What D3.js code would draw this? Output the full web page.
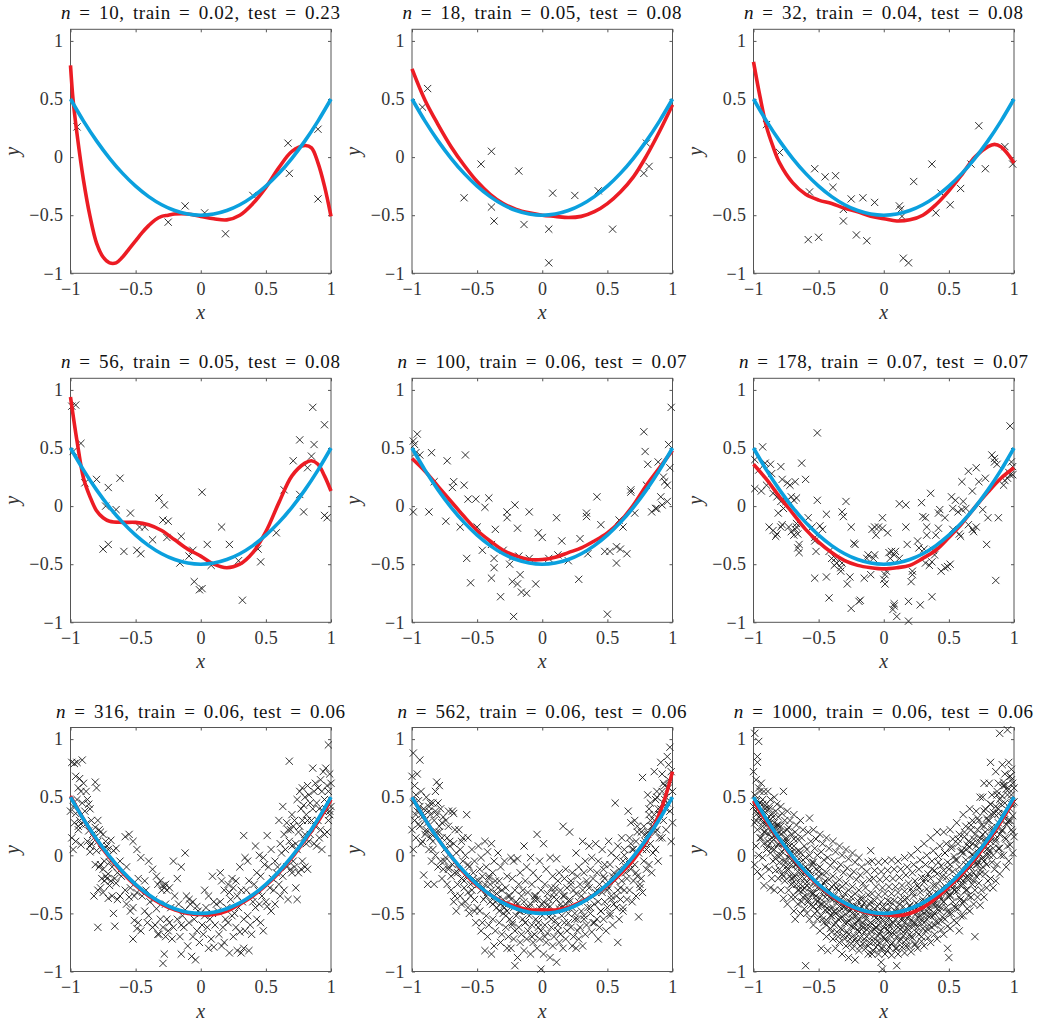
<!DOCTYPE html>
<html>
<head>
<meta charset="utf-8">
<script src="https://cdn.jsdelivr.net/npm/d3@7"></script>
<style>
body { margin: 0; background: #fff; }
text { font-family: "Liberation Serif", "DejaVu Serif", serif; }
</style>
</head>
<body>
<svg id="chart" width="1048" height="1020"></svg>
<script>
// Sample sizes and errors shown in each panel title.
var ns = [10, 18, 32, 56, 100, 178, 316, 562, 1000];
var trainErr = ["0.02", "0.05", "0.04", "0.05", "0.06", "0.07", "0.06", "0.06", "0.06"];
var testErr = ["0.23", "0.08", "0.08", "0.08", "0.07", "0.07", "0.06", "0.06", "0.06"];

var xTicks = [-1, -0.5, 0, 0.5, 1];
var yTicks = [-1, -0.5, 0, 0.5, 1];

// True function (blue).
var truthX = [-1, -0.9, -0.8, -0.7, -0.6, -0.5, -0.4, -0.3, -0.2, -0.1, 0, 0.1, 0.2, 0.3, 0.4, 0.5, 0.6, 0.7, 0.8, 0.9, 1];
var truthY = [0.5, 0.31, 0.14, -0.01, -0.14, -0.25, -0.34, -0.41, -0.46, -0.49, -0.5, -0.49, -0.46, -0.41, -0.34, -0.25, -0.14, -0.01, 0.14, 0.31, 0.5];

// Fitted curves (red), flat x,y pairs in hundredths.
var fit10 = [-100,79, -98,49, -95,20, -90,-20, -85,-51, -80,-74, -75,-86, -70,-91, -65,-91, -60,-86, -55,-79, -50,-72, -45,-65, -40,-59, -35,-54, -30,-51, -25,-50, -20,-49, -10,-49, 0,-51, 10,-53, 20,-54, 30,-50, 40,-40, 50,-26, 60,-9, 70,5, 80,10, 85,8, 90,-5, 95,-25, 100,-51];
var fit18 = [-100,76, -90,49, -80,28, -70,9, -60,-7, -50,-21, -40,-32, -30,-40, -20,-45, -10,-48, 0,-50, 10,-51, 20,-52, 30,-51, 40,-47, 50,-40, 60,-30, 70,-17, 80,1, 90,22, 100,45];
var fit32 = [-100,82, -95,52, -90,26, -85,9, -80,-5, -70,-22, -60,-32, -50,-37, -40,-40, -30,-44, -20,-47, -10,-51, 0,-53, 10,-55, 20,-54, 30,-50, 40,-41, 50,-29, 60,-15, 70,0, 80,9, 85,11, 90,9, 95,3, 100,-5];
var fit56 = [-100,94, -95,56, -90,24, -85,8, -80,-4, -75,-10, -70,-13, -60,-14, -50,-14, -40,-16, -30,-21, -20,-29, -10,-37, 0,-43, 10,-50, 20,-53, 30,-50, 40,-40, 50,-22, 60,3, 70,26, 80,37, 85,39, 90,36, 95,26, 100,13];
var fit100 = [-100,41, -90,30, -80,17, -70,4, -60,-9, -50,-21, -40,-30, -30,-38, -20,-43, -10,-46, 0,-46, 10,-44, 20,-40, 30,-36, 40,-30, 50,-23, 60,-13, 70,1, 80,18, 90,33, 100,48];
var fit178 = [-100,36, -90,23, -80,8, -70,-6, -60,-20, -50,-31, -40,-40, -30,-47, -20,-51, -10,-53, 0,-54, 10,-53, 20,-51, 30,-45, 40,-38, 50,-27, 60,-15, 70,-1, 80,12, 90,24, 100,33];
var fit316 = [-100,51, -90,31, -80,13, -70,-2, -60,-15, -50,-26, -40,-35, -30,-42, -20,-47, -10,-50, 0,-51, 10,-51, 20,-48, 30,-42, 40,-35, 50,-26, 60,-15, 70,-2, 80,13, 90,29, 100,48];
var fit562 = [-100,50, -90,31, -80,14, -70,-1, -60,-15, -50,-26, -40,-34, -30,-40, -20,-44, -10,-47, 0,-47, 10,-47, 20,-45, 30,-40, 40,-34, 50,-26, 60,-16, 70,-4, 80,12, 90,36, 95,52, 100,72];
var fit1000 = [-100,47, -90,29, -80,13, -70,-2, -60,-15, -50,-26, -40,-35, -30,-42, -20,-47, -10,-50, 0,-51, 10,-52, 20,-50, 30,-45, 40,-37, 50,-27, 60,-16, 70,-3, 80,12, 90,29, 100,48];

// Training samples, flat x,y pairs in hundredths.
var pts10 = [-95,26, -12,-42, -25,-56, 3,-48, 19,-66, 40,-33, 67,12, 68,-14, 90,24, 90,-36];
var pts18 = [-88,59, -92,43, -39,5, -47,-6, -18,-12, -60,-35, -39,-43, -37,-55, -14,-58, 5,-62, 5,-91, 8,-31, 25,-33, 43,-29, 54,-62, 80,12, 82,-8, 78,-14];
var pts32 = [-90,28, -80,4, -53,-10, -57,-30, -45,-17, -37,-16, -39,-26, -25,-36, -16,-35, -7,-39, -31,-45, -31,-55, -58,-71, -50,-69, -21,-67, -13,-72, 12,-42, 13,-45, 14,-51, 15,-87, 19,-91, 23,-21, 37,-6, 40,-48, 44,-31, 51,-41, 59,-27, 67,-6, 73,27, 78,-10, 93,9, 99,-6];
var pts56 = [-99,86, -96,87, -92,54, -98,47, -89,20, -80,23, -71,16, -62,24, -73,0, -65,-3, -54,-6, -75,-37, -71,-33, -59,-39, -49,-38, -46,-41, -47,-18, -43,-18, -37,-29, -32,7, -28,1, -29,-12, -25,-13, -26,-27, -15,-26, -16,-49, -9,-43, -6,-38, -5,-65, -1,-72, 1,-71, 1,12, 5,-33, 8,-51, 16,-18, 22,-33, 29,-47, 32,-81, 44,-37, 46,-48, 58,-23, 64,14, 71,39, 76,57, 76,10, 79,-5, 82,33, 85,43, 86,85, 87,53, 95,70, 95,-8, 97,-10];
var pts100 = [-99,56, -96,62, -98,53, -97,46, -94,44, -99,-5, -85,46, -87,-5, -83,21, -73,39, -74,-13, -68,21, -69,16, -60,18, -59,44, -63,-18, -57,6, -51,6, -58,-45, -55,-66, -50,-18, -41,7, -44,-1, -36,-20, -46,-38, -39,-33, -37,-45, -37,-53, -39,-62, -32,-78, -30,-38, -27,-10, -27,-5, -25,-50, -23,-44, -23,-65, -21,1, -19,-19, -18,-43, -17,-59, -19,-67, -16,-74, -12,-75, -22,-95, -10,-5, -10,-45, -5,-67, -3,-23, 0,-27, 5,-45, 11,-10, 15,-30, 12,-42, 20,-47, 29,-28, 28,-63, 34,-6, 34,-9, 35,-41, 42,8, 45,-16, 48,-39, 50,-93, 52,-39, 57,-35, 60,-37, 57,-49, 59,-12, 65,-41, 62,-18, 68,14, 68,12, 71,-6, 78,64, 79,47, 81,36, 80,18, 84,-5, 87,-2, 89,38, 91,8, 92,1, 94,21, 96,18, 93,25, 97,53, 99,85, 98,33, 96,4, 88,-2];
var pts178 = [-99,40, -93,51, -99,15, -96,31, -91,37, -87,36, -86,28, -90,18, -94,13, -85,11, -82,8, -79,4, -79,34, -78,23, -81,-6, -77,-2, -75,4, -74,20, -72,18, -68,21, -69,5, -67,7, -71,8, -88,-18, -85,-21, -82,-24, -79,-18, -78,-16, -83,-26, -73,-18, -71,-22, -68,-20, -67,-18, -69,-25, -66,-24, -65,-33, -65,-40, -66,-36, -67,-15, -63,37, -60,23, -58,-10, -55,-18, -53,-27, -51,5, -53,-30, -52,-39, -53,-62, -51,63, -49,-17, -47,-20, -44,-7, -44,-61, -42,-39, -40,-45, -42,-79, -38,-51, -37,-45, -36,-49, -33,-53, -33,-56, -32,-49, -31,-9, -32,-5, -29,4, -28,-67, -26,-61, -25,-18, -25,-88, -23,-32, -22,-33, -19,-82, -18,-81, -15,-62, -13,-45, -12,-42, -9,-20, -10,-59, -8,-45, -7,-42, -7,-18, -6,-25, -4,-18, -1,-10, -1,-19, 0,-63, 1,-59, 1,-67, 2,-56, 3,-23, 4,-40, 5,-45, 6,-39, 8,-42, 9,-39, 8,-86, 8,-84, 7,-89, 10,-95, 12,-45, 12,2, 17,1, 17,-18, 18,-33, 19,-82, 19,-99, 21,-65, 22,-59, 22,-56, 26,-30, 27,-36, 28,-85, 29,3, 30,-9, 31,-37, 32,-10, 33,-18, 33,-25, 32,-49, 35,-51, 36,11, 37,-48, 37,-78, 38,-38, 39,-42, 40,-25, 42,-19, 42,-6, 43,-3, 44,-56, 47,-10, 47,-53, 49,-52, 51,-50, 52,8, 53,-20, 53,-2, 55,5, 57,-5, 58,-24, 59,-26, 60,-3, 60,21, 61,4, 63,-2, 65,30, 65,-16, 68,13, 68,-20, 69,-22, 71,-18, 71,33, 73,21, 76,-3, 78,24, 79,-33, 80,-10, 83,44, 85,38, 85,41, 86,-64, 87,36, 88,-10, 92,18, 93,22, 97,69, 98,38, 99,27, 99,34, 97,27, 95,24, 96,29];
var pts316 = [-99,80, -100,38, -98,5, -99,15, -97,79, -96,68, -98,42, -97,28, -96,12, -95,80, -94,58, -95,48, -96,36, -94,22, -93,66, -92,55, -93,30, -94,25, -92,9, -91,82, -90,62, -91,45, -92,27, -88,55, -87,48, -89,38, -88,27, -87,12, -86,44, -85,40, -86,21, -85,8, -84,30, -83,18, -84,10, -85,3, -81,63, -80,58, -81,24, -82,15, -80,4, -81,-8, -82,-35, -79,30, -78,22, -79,12, -78,-10, -79,-30, -79,-62, -77,20, -76,5, -77,-8, -76,-20, -77,-28, -75,18, -74,-5, -75,-12, -74,-22, -75,-32, -73,12, -72,8, -73,-18, -72,-20, -71,5, -70,-6, -71,-16, -70,-26, -71,-37, -69,13, -68,-10, -69,-22, -68,-35, -67,4, -66,-20, -67,-50, -66,-61, -65,6, -64,-15, -65,-24, -64,-38, -62,-5, -61,-18, -62,-35, -58,16, -57,-10, -58,-30, -57,-42, -55,18, -54,-28, -55,-36, -54,-48, -52,12, -51,-35, -52,-45, -51,-56, -52,-72, -49,5, -48,-20, -49,-32, -48,-58, -49,-63, -46,-2, -45,-35, -46,-65, -43,-22, -42,-30, -43,-48, -40,-5, -39,-40, -40,-52, -41,-58, -37,-12, -36,-38, -37,-62, -34,-18, -33,-25, -34,-46, -35,-60, -33,-68, -31,-22, -30,-30, -31,-55, -32,-68, -29,-26, -28,-28, -29,-62, -28,-85, -29,-93, -27,-25, -26,-30, -27,-42, -26,-55, -27,-70, -24,-28, -23,-45, -24,-58, -25,-65, -21,-5, -20,-35, -21,-62, -22,-72, -18,-20, -17,-42, -18,-55, -15,-10, -14,-52, -15,-60, -16,-70, -15,-85, -12,2, -11,-35, -12,-47, -13,-62, -9,-38, -8,-42, -9,-58, -10,-78, -6,-40, -5,-55, -6,-70, -7,-87, -3,-44, -2,-48, -3,-65, -4,-90, 0,-50, 1,-60, -1,-75, 3,-30, 4,-45, 3,-52, 2,-68, 6,-35, 7,-55, 6,-80, 5,-62, 9,-18, 10,-40, 9,-50, 8,-72, 10,-79, 12,-42, 13,-48, 11,-60, 15,-15, 16,-22, 15,-40, 14,-68, 16,-78, 18,-30, 19,-55, 17,-62, 18,-75, 21,-25, 22,-32, 20,-45, 21,-58, 22,-84, 24,-20, 25,-28, 23,-38, 24,-52, 25,-70, 27,-22, 28,-35, 26,-50, 27,-62, 28,-82, 30,-10, 31,-30, 29,-45, 30,-66, 31,-84, 33,17, 34,-2, 32,-40, 33,-55, 34,-65, 33,-80, 36,-5, 37,-22, 35,-30, 36,-52, 37,-82, 39,-35, 40,-40, 38,-60, 39,-68, 42,8, 43,-15, 41,-25, 42,-45, 43,-55, 45,0, 46,-18, 44,-30, 45,-42, 46,-58, 48,-2, 49,-8, 47,-35, 48,-65, 51,17, 52,-10, 50,-40, 51,-44, 54,5, 55,-20, 53,-28, 54,-48, 57,-5, 58,-15, 56,-30, 57,-42, 60,30, 61,10, 59,-10, 60,-25, 61,-35, 63,42, 64,18, 62,2, 63,-18, 64,-30, 66,28, 67,22, 65,5, 66,-10, 67,-38, 68,81, 69,22, 68,12, 69,-12, 70,35, 71,25, 70,8, 71,-5, 70,-15, 72,30, 73,10, 72,-10, 73,-28, 74,48, 75,20, 74,5, 75,-15, 74,-38, 76,55, 77,40, 76,25, 77,-12, 78,58, 79,43, 78,30, 79,15, 78,-5, 80,50, 81,35, 80,18, 81,10, 80,-10, 82,60, 83,52, 82,30, 83,12, 82,-12, 84,45, 85,30, 84,18, 86,75, 87,55, 86,40, 87,10, 88,62, 89,45, 88,25, 89,8, 90,58, 91,40, 90,30, 91,15, 92,65, 93,55, 92,22, 93,5, 94,72, 95,48, 94,38, 95,18, 96,75, 97,60, 96,40, 97,20, 98,95, 99,70, 98,55, 99,35, 98,30, 100,62, 100,42, 99,38];
var pts562 = [-99,88, -100,68, -98,60, -97,52, -99,45, -96,38, -98,30, -100,22, -97,15, -99,5, -96,70, -95,27,
  -94,82, -93,55, -95,47, -91,40, -92,33, -94,25, -90,18, -93,10, -91,-17, -92,36, -94,42,
  -89,50, -87,42, -86,35, -88,28, -89,20, -86,15, -87,5, -85,-5, -88,-25, -86,45, -89,22,
  -81,63, -84,45, -82,38, -83,30, -81,20, -84,12, -82,0, -80,-10, -83,-25, -81,35, -84,5,
  -79,60, -78,40, -76,33, -79,25, -77,15, -75,5, -78,-5, -76,-12, -79,20, -77,-20,
  -74,30, -72,25, -73,15, -71,8, -74,-2, -72,-10, -70,-18, -73,-25, -71,12, -72,38,
  -69,38, -67,22, -68,10, -66,2, -69,-8, -67,-15, -65,-25, -68,-40, -66,-48, -68,36,
  -64,22, -62,12, -63,5, -61,-5, -64,-12, -62,-20, -60,-28, -63,-35, -61,15,
  -58,35, -57,15, -59,0, -56,-10, -58,-18, -55,-25, -57,-32, -59,-40, -56,-50, -57,-8,
  -54,5, -52,-5, -53,-15, -51,-22, -54,-30, -52,-38, -50,-45, -53,-20, -51,-58,
  -49,8, -47,-2, -48,-12, -46,-18, -49,-22, -47,-30, -45,-38, -48,-48, -46,-58, -47,-65, -49,-25,
  -44,12, -42,3, -43,-10, -41,-20, -44,-25, -42,-32, -40,-40, -43,-52, -41,-60, -42,-70, -44,-82, -41,-18,
  -39,10, -37,-5, -38,-15, -36,-22, -39,-30, -37,-35, -35,-45, -38,-55, -36,-65, -37,-78, -39,-85, -36,-40,
  -34,2, -32,-10, -33,-22, -31,-30, -34,-38, -32,-42, -30,-50, -33,-58, -31,-68, -32,-75, -34,-28,
  -29,-5, -27,-18, -28,-28, -26,-35, -29,-42, -27,-48, -25,-55, -28,-62, -26,-70, -27,-80, -29,-45,
  -24,-2, -22,-5, -23,-20, -21,-30, -24,-38, -22,-45, -20,-52, -23,-58, -21,-65, -22,-72, -24,-80, -21,-95,
  -19,-3, -17,-15, -18,-25, -16,-35, -19,-42, -17,-48, -15,-55, -18,-62, -16,-68, -17,-75, -19,-88,
  -14,8, -12,-10, -13,-22, -11,-32, -14,-40, -12,-45, -10,-52, -13,-58, -11,-65, -12,-72, -14,-82, -11,-48,
  -9,-2, -7,-15, -8,-25, -6,-35, -9,-42, -7,-48, -5,-55, -8,-60, -6,-68, -7,-75, -9,-85, -6,-38,
  -4,18, -2,-5, -3,-20, -1,-30, -4,-38, -2,-45, 0,-52, -3,-58, -1,-65, -2,-72, -4,-80, -1,-98,
  1,10, 3,-12, 2,-25, 4,-33, 1,-40, 3,-47, 5,-53, 2,-60, 4,-67, 3,-75, 1,-85, 4,-43,
  6,-2, 8,-18, 7,-28, 9,-36, 6,-44, 8,-50, 10,-56, 7,-62, 9,-70, 8,-78, 6,-88, 9,-32,
  11,-3, 13,-15, 12,-22, 14,-30, 11,-38, 13,-46, 15,-52, 12,-60, 14,-68, 13,-75, 11,-92, 14,-42,
  16,25, 18,-12, 17,-20, 19,-28, 16,-35, 18,-42, 20,-50, 17,-58, 19,-65, 18,-72, 16,-80,
  21,20, 23,-15, 22,-22, 24,-30, 21,-38, 23,-45, 25,-55, 22,-62, 24,-70, 23,-78, 21,-40,
  26,2, 28,-10, 27,-18, 29,-25, 26,-33, 28,-40, 30,-48, 27,-55, 29,-62, 28,-72, 26,-80,
  31,12, 33,-5, 32,-15, 34,-22, 31,-30, 33,-38, 35,-45, 32,-52, 34,-60, 33,-68, 31,-78,
  36,8, 38,-2, 37,-12, 39,-20, 36,-28, 38,-35, 40,-42, 37,-50, 39,-58, 38,-66,
  41,10, 43,-5, 42,-15, 44,-25, 41,-32, 43,-40, 45,-48, 42,-55, 44,-62, 43,-72,
  46,5, 48,-8, 47,-18, 49,-25, 46,-32, 48,-40, 50,-45, 47,-55, 49,-65, 48,-20,
  51,12, 53,2, 52,-8, 54,-18, 51,-28, 53,-35, 55,-42, 52,-52, 54,-60, 53,-38,
  56,45, 58,8, 57,-2, 59,-12, 56,-22, 58,-30, 60,-38, 57,-45, 59,-55, 58,-75,
  61,15, 63,5, 62,-5, 64,-15, 61,-22, 63,-30, 65,-38, 62,-48, 64,-10, 63,0,
  66,38, 68,28, 67,15, 69,5, 66,-5, 68,-12, 70,-22, 67,-30, 69,-40, 68,10,
  71,30, 73,20, 72,12, 74,2, 71,-8, 73,-18, 75,-25, 72,-35, 74,-53, 73,25,
  77,67, 78,25, 76,20, 79,12, 77,5, 78,-5, 80,-12, 76,-20, 79,18, 78,10,
  81,52, 83,45, 82,35, 84,25, 81,18, 83,10, 85,2, 82,-8, 84,-15, 83,30, 81,20,
  86,72, 88,55, 87,48, 89,40, 86,30, 88,22, 90,15, 87,5, 89,-5, 88,50, 86,35,
  91,80, 93,62, 92,55, 94,48, 91,40, 93,30, 95,22, 92,15, 94,60, 93,45,
  98,93, 96,85, 99,72, 97,65, 100,55, 96,45, 98,38, 100,28, 99,12, 97,78, 95,50,
  -45,-28, -43,-35, -40,-25, -38,-42, -35,-33, -33,-48, -30,-38, -28,-52, -25,-35, -23,-60, -20,-40, -18,-48, -15,-30, -13,-58, -10,-45, -8,-70, -5,-35, -3,-62, 0,-42, 2,-70,
  5,-38, 7,-55, 10,-28, 12,-65, 15,-45, 17,-35, 20,-58, 22,-25, 25,-50, 27,-65, 30,-35, 32,-55, 35,-25, 37,-45, 40,-58, 42,-30, 45,-48, 47,-12, 50,-30, 52,-50, 55,-15, 57,-35, 60,-28,
  -90,30, -85,18, -80,45, -75,-5, -70,-30, -65,-15, -60,-22, -55,-35, 65,-20, 70,5, 75,-28, 80,5, 85,25, 90,35, 95,40,
  -97,35, -92,12, -87,38, -82,55, -77,28, -72,-12, -67,-35, -62,-42, -57,-45, -52,-48, 62,-45, 67,-8, 72,-15, 77,-32, 82,40, 87,20, 92,70, 97,58];
var pts1000 = [-99,105, -97,85, -100,72, -98,65, -96,58, -99,52, -97,47, -100,42, -98,38, -96,33, -99,28, -97,22, -95,15, -98,8, -96,0, -99,-8, -97,-14, -96,98, -97,80, -95,45, -98,30,
  -94,62, -92,55, -93,48, -91,43, -94,38, -92,34, -90,30, -93,25, -91,20, -94,15, -92,10, -90,5, -93,-2, -91,-10, -94,-18, -92,-26, -91,40, -93,28,
  -89,55, -87,48, -88,42, -86,36, -89,32, -87,28, -85,24, -88,18, -86,12, -89,8, -87,2, -85,-5, -88,-12, -86,-20, -87,-28, -88,30, -86,15,
  -84,50, -82,44, -83,38, -81,33, -84,28, -82,24, -80,20, -83,15, -81,10, -84,5, -82,0, -80,-6, -83,-13, -81,-20, -84,-30, -82,18, -81,26,
  -77,55, -79,42, -78,36, -76,30, -79,25, -77,20, -75,15, -78,10, -76,6, -79,0, -77,-5, -75,-10, -78,-16, -76,-22, -79,-30, -77,-37, -76,12,
  -74,38, -72,30, -73,24, -71,18, -74,12, -72,8, -70,3, -73,-2, -71,-8, -74,-13, -72,-18, -70,-24, -73,-30, -71,-36, -74,-42, -72,0, -71,-20,
  -69,35, -67,26, -68,20, -66,14, -69,8, -67,3, -65,-3, -68,-8, -66,-14, -69,-19, -67,-25, -65,-30, -68,-36, -66,-42, -69,-48, -68,-55, -66,-10,
  -64,30, -62,22, -63,15, -61,8, -64,2, -62,-4, -60,-10, -63,-15, -61,-20, -64,-25, -62,-30, -60,-35, -63,-40, -61,-46, -64,-50, -62,-12, -61,-28,
  -57,32, -58,20, -56,12, -59,5, -57,0, -55,-6, -58,-12, -56,-18, -59,-23, -57,-28, -55,-33, -58,-38, -56,-43, -59,-50, -57,-55, -60,-95, -56,-20,
  -54,22, -52,14, -53,6, -51,0, -54,-6, -52,-12, -50,-18, -53,-23, -51,-28, -54,-33, -52,-38, -50,-44, -53,-50, -51,-55, -54,-60, -52,-25, -51,-40,
  -49,18, -47,10, -48,3, -46,-4, -49,-10, -47,-16, -45,-22, -48,-27, -46,-32, -49,-37, -47,-42, -45,-47, -48,-52, -46,-58, -49,-65, -48,-80, -46,-30,
  -44,15, -42,6, -43,-2, -41,-9, -44,-15, -42,-21, -40,-27, -43,-32, -41,-37, -44,-42, -42,-47, -40,-52, -43,-57, -41,-63, -44,-70, -43,-82, -41,-35,
  -39,12, -37,3, -38,-5, -36,-12, -39,-18, -37,-24, -35,-30, -38,-35, -36,-40, -39,-45, -37,-50, -35,-55, -38,-60, -36,-66, -39,-72, -37,-80, -36,-38,
  -34,8, -32,0, -33,-8, -31,-15, -34,-21, -32,-27, -30,-33, -33,-38, -31,-43, -34,-48, -32,-53, -30,-58, -33,-63, -31,-69, -34,-75, -32,-85, -31,-45,
  -29,5, -27,-3, -28,-11, -26,-18, -29,-24, -27,-30, -25,-36, -28,-41, -26,-46, -29,-51, -27,-56, -25,-61, -28,-66, -26,-72, -29,-78, -27,-88, -26,-48,
  -24,2, -22,-6, -23,-14, -21,-21, -24,-27, -22,-33, -20,-39, -23,-44, -21,-49, -24,-54, -22,-59, -20,-64, -23,-69, -21,-75, -24,-80, -22,-90, -21,-52,
  -19,-2, -17,-10, -18,-17, -16,-24, -19,-30, -17,-36, -15,-41, -18,-46, -16,-51, -19,-56, -17,-61, -15,-66, -18,-71, -16,-76, -19,-82, -17,-44, -16,-58,
  -10,4, -12,-6, -13,-14, -11,-21, -14,-28, -12,-34, -10,-40, -13,-45, -11,-50, -14,-55, -12,-60, -10,-65, -13,-70, -11,-75, -14,-80, -12,-85, -11,-48,
  -9,-5, -7,-13, -8,-20, -6,-27, -9,-33, -7,-39, -5,-44, -8,-49, -6,-54, -9,-59, -7,-64, -5,-69, -8,-74, -6,-79, -9,-85, -7,-52, -6,-62,
  -4,-6, -2,-14, -3,-21, -1,-28, -4,-34, -2,-40, 0,-45, -3,-50, -1,-55, -4,-60, -2,-65, 0,-70, -3,-75, -1,-80, -4,-85, -2,-92, -1,-98, -3,-53,
  1,-5, 3,-13, 2,-20, 4,-27, 1,-33, 3,-39, 5,-44, 2,-49, 4,-54, 1,-59, 3,-64, 5,-69, 2,-74, 4,-79, 1,-85, 3,-48, 4,-60,
  6,-4, 8,-12, 7,-20, 9,-27, 6,-33, 8,-39, 10,-45, 7,-50, 9,-55, 6,-60, 8,-65, 10,-70, 7,-75, 9,-80, 6,-86, 10,-95, 8,-52,
  11,-5, 13,-12, 12,-19, 14,-26, 11,-32, 13,-38, 15,-44, 12,-49, 14,-54, 11,-59, 13,-64, 15,-69, 12,-74, 14,-79, 11,-85, 13,-51, 14,-62,
  16,-2, 18,-10, 17,-17, 19,-24, 16,-31, 18,-37, 20,-43, 17,-48, 19,-53, 16,-58, 18,-63, 20,-68, 17,-73, 19,-78, 16,-84, 18,-50, 19,-60,
  21,0, 23,-8, 22,-15, 24,-22, 21,-29, 23,-35, 25,-41, 22,-46, 24,-51, 21,-56, 23,-61, 25,-66, 22,-71, 24,-77, 21,-83, 23,-48, 24,-58,
  26,5, 28,-4, 27,-12, 29,-19, 26,-26, 28,-32, 30,-38, 27,-43, 29,-48, 26,-53, 28,-58, 30,-63, 27,-68, 29,-74, 26,-80, 28,-45, 29,-55,
  31,10, 33,0, 32,-8, 34,-16, 31,-23, 33,-29, 35,-35, 32,-40, 34,-45, 31,-50, 33,-55, 35,-60, 32,-65, 34,-71, 31,-78, 33,-42, 34,-52,
  36,15, 38,4, 37,-5, 39,-13, 36,-20, 38,-26, 40,-32, 37,-37, 39,-42, 36,-47, 38,-52, 40,-57, 37,-62, 39,-68, 36,-75, 38,-38, 39,-50,
  41,20, 43,8, 42,-1, 44,-9, 41,-16, 43,-22, 45,-28, 42,-33, 44,-38, 41,-43, 43,-48, 45,-53, 42,-58, 44,-64, 41,-72, 43,-35, 44,-45,
  46,20, 48,10, 47,2, 49,-6, 46,-13, 48,-19, 50,-25, 47,-30, 49,-35, 46,-40, 48,-45, 50,-50, 47,-55, 49,-61, 46,-68, 49,-80, 48,-32,
  51,22, 53,14, 52,6, 54,-1, 51,-8, 53,-14, 55,-20, 52,-25, 54,-30, 51,-35, 53,-40, 55,-45, 52,-50, 54,-56, 51,-63, 50,-88, 53,-28,
  56,28, 58,18, 57,10, 59,3, 56,-4, 58,-10, 60,-16, 57,-21, 59,-26, 56,-31, 58,-36, 60,-41, 57,-46, 59,-52, 56,-58, 58,-65, 59,-20,
  61,35, 63,25, 62,16, 64,9, 61,2, 63,-4, 65,-10, 62,-15, 64,-20, 61,-25, 63,-30, 65,-35, 62,-40, 64,-46, 61,-52, 63,5, 64,-18,
  66,40, 68,30, 67,22, 69,14, 66,7, 68,1, 70,-5, 67,-10, 69,-15, 66,-20, 68,-25, 70,-30, 67,-36, 69,-42, 66,-48, 70,-70, 68,10,
  74,50, 71,38, 73,30, 72,22, 74,15, 71,8, 73,2, 75,-3, 72,-8, 74,-13, 71,-18, 73,-24, 75,-30, 72,-36, 74,-43, 73,12, 72,-5,
  77,62, 76,50, 78,40, 79,32, 77,25, 76,18, 78,12, 80,6, 79,0, 77,-5, 76,-10, 78,-16, 80,-22, 79,-28, 77,-36, 78,20, 79,5,
  82,80, 81,62, 83,52, 82,44, 84,37, 81,30, 83,24, 85,18, 82,12, 84,6, 81,0, 83,-6, 85,-12, 82,-20, 84,-28, 83,35, 82,15,
  89,105, 86,72, 88,62, 87,55, 89,48, 86,42, 88,36, 90,30, 87,24, 89,18, 86,12, 88,6, 90,0, 87,-8, 89,-16, 86,-22, 88,40,
  95,108, 91,78, 93,70, 92,63, 94,57, 91,51, 93,45, 95,39, 92,33, 94,27, 91,21, 93,15, 95,8, 92,0, 94,-10, 93,60, 92,35,
  96,80, 98,74, 97,68, 99,62, 96,57, 98,52, 100,46, 97,40, 99,34, 96,28, 98,22, 100,16, 97,9, 99,2, 96,-5, 98,65, 99,45, 97,30,
  -98,48, -97,36, -95,55, -94,31, -93,44, -92,20, -91,37, -90,26, -89,12, -88,40, -87,21, -86,6, -85,33, -84,17, -83,-3, -82,26, -81,9, -80,-12, -79,18, -78,3,
  -77,-18, -76,10, -75,-6, -74,22, -73,-12, -72,2, -71,-25, -70,-4, -69,14, -68,-18, -67,-8, -66,-30, -65,4, -64,-20, -63,-9, -62,-36, -61,-15, -60,-2, -59,-26, -58,-40,
  -57,-14, -56,-32, -55,-8, -54,-44, -53,-22, -52,-35, -51,-48, -50,-14, -49,-28, -48,-42, -47,-55, -46,-24, -45,-36, -44,-60, -43,-46, -42,-30, -41,-52, -40,-66, -39,-38, -38,-48,
  -37,-58, -36,-28, -35,-70, -34,-44, -33,-54, -32,-64, -31,-36, -30,-72, -29,-46, -28,-58, -27,-68, -26,-40, -25,-76, -24,-50, -23,-62, -22,-72, -21,-44, -20,-56, -19,-66, -18,-78,
  -17,-38, -16,-62, -15,-72, -14,-52, -13,-64, -12,-78, -11,-42, -10,-58, -9,-70, -8,-82, -7,-46, -6,-62, -5,-74, -4,-56, -3,-68, -2,-80, -1,-44, 0,-62, 1,-72, 2,-54,
  3,-82, 4,-66, 5,-40, 6,-76, 7,-58, 8,-68, 9,-48, 10,-80, 11,-62, 12,-42, 13,-72, 14,-56, 15,-66, 16,-38, 17,-78, 18,-54, 19,-64, 20,-44, 21,-70, 22,-32,
  23,-58, 24,-76, 25,-46, 26,-62, 27,-28, 28,-52, 29,-70, 30,-40, 31,-58, 32,-20, 33,-48, 34,-64, 35,-32, 36,-52, 37,-12, 38,-42, 39,-60, 40,-26, 41,-46, 42,-6,
  43,-36, 44,-56, 45,-18, 46,-40, 47,2, 48,-28, 49,-48, 50,-12, 51,-34, 52,8, 53,-22, 54,-44, 55,-4, 56,-28, 57,14, 58,-16, 59,-38, 60,4, 61,-22, 62,20,
  63,-8, 64,-30, 65,12, 66,-16, 67,26, 68,0, 69,-22, 70,18, 71,-8, 72,32, 73,6, 74,-16, 75,26, 76,-2, 77,38, 78,14, 79,-8, 80,30, 81,4, 82,44,
  83,22, 84,0, 85,36, 86,14, 87,52, 88,28, 89,6, 90,44, 91,22, 92,60, 93,36, 94,14, 95,52, 96,30, 97,68, 98,44, 99,20, 100,58];

var ptsByPanel = [pts10, pts18, pts32, pts56, pts100, pts178, pts316, pts562, pts1000];
var fitByPanel = [fit10, fit18, fit32, fit56, fit100, fit178, fit316, fit562, fit1000];

// Panel layout on the page.
var colLeft = [70.5, 412, 753.5];
var rowTop = [29.3, 378.3, 727.5];
var plotW = 260.5, plotH = 244;

var redColor = "#ec1c24";
var blueColor = "#0ba0de";
var axisColor = "#555";
var textColor = "#333";

function toPairs(flat){
    var out = [];
    for (var k = 0; k < flat.length; k += 2) {
        out.push([flat[k] / 100, flat[k + 1] / 100]);
    }
    return out;
}

function fmt(d){
    return (d < 0 ? "\u2212" : "") + Math.abs(d);
}

function drawPanel(svg, i){
    var g = svg.append("g")
        .attr("transform", "translate(" + colLeft[i % 3] + "," + rowTop[Math.floor(i / 3)] + ")");

    var x = d3.scaleLinear().domain([-1, 1]).range([0, plotW]);
    var y = d3.scaleLinear().domain([-1, 1.1]).range([plotH, 0]);

    // Axes with inward ticks on all four sides, MATLAB style.
    var bottom = g.append("g")
        .attr("transform", "translate(0," + plotH + ")")
        .call(d3.axisBottom(x).tickValues(xTicks).tickSize(-3).tickSizeOuter(0).tickPadding(9).tickFormat(fmt));
    var left = g.append("g")
        .call(d3.axisLeft(y).tickValues(yTicks).tickSize(-3).tickSizeOuter(0).tickPadding(7).tickFormat(fmt));
    var top = g.append("g")
        .call(d3.axisTop(x).tickValues(xTicks).tickSize(-3).tickSizeOuter(0).tickFormat(""));
    var right = g.append("g")
        .attr("transform", "translate(" + plotW + ",0)")
        .call(d3.axisRight(y).tickValues(yTicks).tickSize(-3).tickSizeOuter(0).tickFormat(""));

    [bottom, left, top, right].forEach(function(a){
        a.select(".domain").remove();
        a.selectAll("line").attr("stroke", axisColor);
        a.selectAll("text")
            .attr("fill", textColor)
            .style("font-family", "'Liberation Serif', serif")
            .style("font-size", "18px")
            .style("letter-spacing", "0.4px");
    });

    g.append("rect")
        .attr("width", plotW)
        .attr("height", plotH)
        .attr("fill", "none")
        .attr("stroke", axisColor)
        .attr("stroke-width", 1);

    // Samples as crosses.
    g.append("g").selectAll("path")
        .data(toPairs(ptsByPanel[i]))
        .enter()
        .append("path")
        .attr("transform", function(d){ return "translate(" + x(d[0]) + "," + y(d[1]) + ")"; })
        .attr("d", "M-3.6,-3.6L3.6,3.6M-3.6,3.6L3.6,-3.6")
        .attr("stroke", "#1a1a1a")
        .attr("stroke-width", 0.9)
        .attr("fill", "none");

    var line = d3.line()
        .x(function(d){ return x(d[0]); })
        .y(function(d){ return y(d[1]); })
        .curve(d3.curveCatmullRom.alpha(0.5));

    g.append("path")
        .datum(toPairs(fitByPanel[i]))
        .attr("d", line)
        .attr("fill", "none")
        .attr("stroke", redColor)
        .attr("stroke-width", 3.6);

    g.append("path")
        .datum(truthX.map(function(v, k){ return [v, truthY[k]]; }))
        .attr("d", line)
        .attr("fill", "none")
        .attr("stroke", blueColor)
        .attr("stroke-width", 3.6);

    // Title with italic n.
    var title = g.append("text")
        .attr("x", plotW / 2)
        .attr("y", -10)
        .attr("text-anchor", "middle")
        .attr("fill", "#111")
        .style("font-size", "19px")
        .style("letter-spacing", "0.6px")
        .style("word-spacing", "3px");
    title.append("tspan").style("font-style", "italic").text("n");
    title.append("tspan").text(" = " + ns[i] + ", train = " + trainErr[i] + ", test = " + testErr[i]);

    // Axis labels.
    g.append("text")
        .attr("x", plotW / 2)
        .attr("y", plotH + 46)
        .attr("text-anchor", "middle")
        .attr("fill", textColor)
        .style("font-size", "20px")
        .style("font-style", "italic")
        .text("x");
    g.append("text")
        .attr("transform", "translate(-52," + (plotH / 2) + ") rotate(-90)")
        .attr("text-anchor", "middle")
        .attr("fill", textColor)
        .style("font-size", "20px")
        .style("font-style", "italic")
        .text("y");
}

window.onload = function(){
    var svg = d3.select("#chart");
    for (var i = 0; i < ns.length; i++) {
        drawPanel(svg, i);
    }
};
</script>
</body>
</html>
